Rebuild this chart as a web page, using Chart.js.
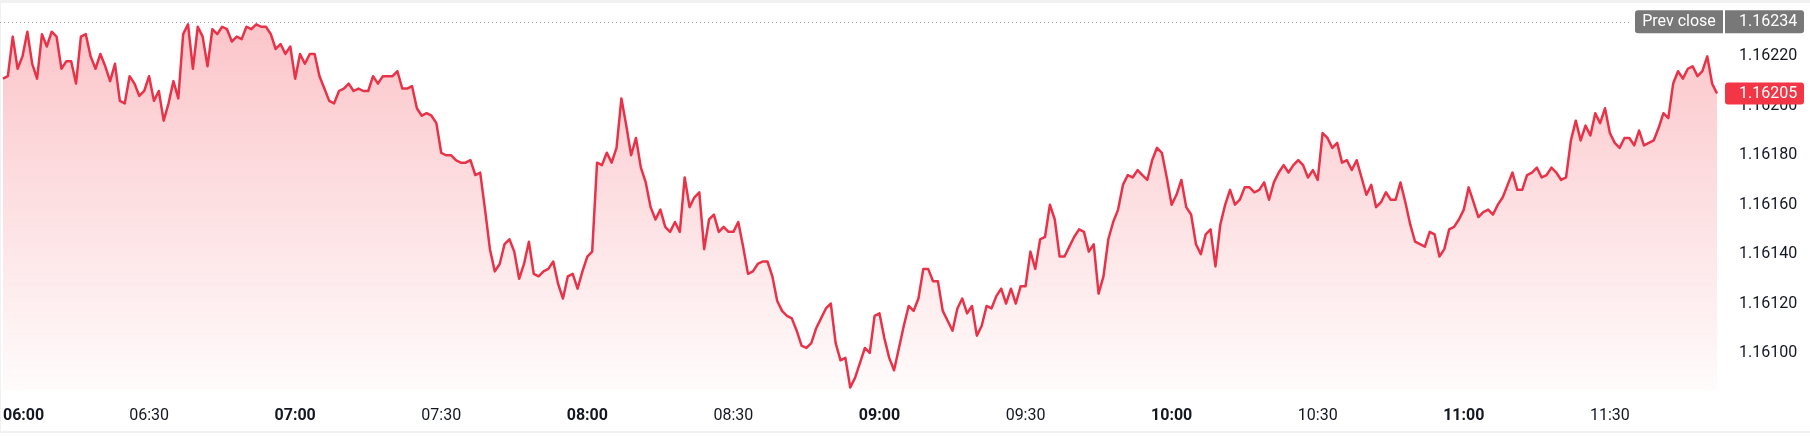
<!DOCTYPE html>
<html>
<head>
<meta charset="utf-8">
<script src="https://cdn.jsdelivr.net/npm/chart.js@4.4.1/dist/chart.umd.min.js"></script>
<style>
  html, body { margin: 0; padding: 0; background: #fff; }
  #wrap { width: 1810px; height: 437px; }
</style>
</head>
<body>
<div id="wrap"><canvas id="priceChart" width="1810" height="437"></canvas></div>
<script>
// one close per minute, starting 06:00
const startTime = '06:00';
const prices = [
  1.16211, 1.16212, 1.16228, 1.16215, 1.16220, 1.16230, 1.16217, 1.16211, 1.16229, 1.16224,
  1.16230, 1.16228, 1.16215, 1.16218, 1.16218, 1.16209, 1.16228, 1.16229, 1.16220, 1.16215,
  1.16221, 1.16216, 1.16210, 1.16217, 1.16202, 1.16201, 1.16212, 1.16209, 1.16204, 1.16206,
  1.16212, 1.16202, 1.16206, 1.16194, 1.16201, 1.16210, 1.16203, 1.16229, 1.16233, 1.16215,
  1.16232, 1.16228, 1.16216, 1.16231, 1.16229, 1.16232, 1.16231, 1.16226, 1.16228, 1.16227,
  1.16232, 1.16231, 1.16233, 1.16232, 1.16232, 1.16229, 1.16223, 1.16225, 1.16221, 1.16224,
  1.16211, 1.16221, 1.16217, 1.16221, 1.16221, 1.16212, 1.16207, 1.16202, 1.16201, 1.16206,
  1.16207, 1.16209, 1.16206, 1.16207, 1.16206, 1.16206, 1.16212, 1.16209, 1.16212, 1.16212,
  1.16212, 1.16214, 1.16207, 1.16207, 1.16208, 1.16199, 1.16196, 1.16197, 1.16196, 1.16193,
  1.16181, 1.16180, 1.16180, 1.16178, 1.16177, 1.16177, 1.16178, 1.16172, 1.16173, 1.16158,
  1.16142, 1.16133, 1.16136, 1.16144, 1.16146, 1.16141, 1.16130, 1.16136, 1.16145, 1.16132,
  1.16131, 1.16133, 1.16134, 1.16137, 1.16128, 1.16122, 1.16131, 1.16132, 1.16126, 1.16133,
  1.16139, 1.16141, 1.16177, 1.16176, 1.16181, 1.16177, 1.16183, 1.16203, 1.16192, 1.16180,
  1.16187, 1.16175, 1.16169, 1.16159, 1.16154, 1.16158, 1.16151, 1.16149, 1.16153, 1.16149,
  1.16171, 1.16159, 1.16163, 1.16165, 1.16142, 1.16154, 1.16156, 1.16149, 1.16151, 1.16149,
  1.16149, 1.16153, 1.16143, 1.16132, 1.16133, 1.16136, 1.16137, 1.16137, 1.16131, 1.16121,
  1.16117, 1.16115, 1.16114, 1.16109, 1.16103, 1.16102, 1.16104, 1.16110, 1.16114, 1.16118,
  1.16120, 1.16104, 1.16097, 1.16098, 1.16086, 1.16090, 1.16096, 1.16102, 1.16100, 1.16115,
  1.16116, 1.16106, 1.16098, 1.16093, 1.16102, 1.16111, 1.16119, 1.16117, 1.16122, 1.16134,
  1.16134, 1.16129, 1.16129, 1.16117, 1.16113, 1.16109, 1.16118, 1.16122, 1.16116, 1.16119,
  1.16107, 1.16111, 1.16119, 1.16118, 1.16123, 1.16126, 1.16120, 1.16126, 1.16120, 1.16127,
  1.16127, 1.16141, 1.16134, 1.16146, 1.16147, 1.16160, 1.16154, 1.16139, 1.16139, 1.16143,
  1.16147, 1.16150, 1.16149, 1.16141, 1.16144, 1.16124, 1.16131, 1.16146, 1.16153, 1.16158,
  1.16168, 1.16172, 1.16171, 1.16174, 1.16172, 1.16170, 1.16178, 1.16183, 1.16181, 1.16171,
  1.16160, 1.16164, 1.16170, 1.16159, 1.16156, 1.16144, 1.16140, 1.16148, 1.16150, 1.16135,
  1.16152, 1.16160, 1.16166, 1.16160, 1.16162, 1.16167, 1.16167, 1.16165, 1.16166, 1.16169,
  1.16162, 1.16169, 1.16173, 1.16176, 1.16173, 1.16176, 1.16178, 1.16176, 1.16171, 1.16174,
  1.16170, 1.16189, 1.16187, 1.16183, 1.16185, 1.16177, 1.16178, 1.16174, 1.16178, 1.16171,
  1.16164, 1.16168, 1.16159, 1.16161, 1.16165, 1.16162, 1.16162, 1.16169, 1.16161, 1.16152,
  1.16145, 1.16144, 1.16143, 1.16149, 1.16148, 1.16139, 1.16142, 1.16150, 1.16151, 1.16154,
  1.16158, 1.16167, 1.16161, 1.16155, 1.16157, 1.16158, 1.16156, 1.16160, 1.16163, 1.16168,
  1.16173, 1.16166, 1.16166, 1.16172, 1.16173, 1.16175, 1.16171, 1.16172, 1.16175, 1.16173,
  1.16170, 1.16171, 1.16186, 1.16194, 1.16186, 1.16192, 1.16188, 1.16197, 1.16193, 1.16199,
  1.16189, 1.16185, 1.16183, 1.16187, 1.16187, 1.16184, 1.16190, 1.16184, 1.16185, 1.16186,
  1.16191, 1.16197, 1.16195, 1.16209, 1.16214, 1.16211, 1.16215, 1.16216, 1.16212, 1.16214,
  1.16220, 1.16209, 1.16205
];
const yTicks = [1.16100, 1.16120, 1.16140, 1.16160, 1.16180, 1.16200, 1.16220];
const yMin = 1.16085;
const yMax = 1.162408;
const prevClose = 1.16234;
const labelEvery = 30; // minutes between time labels

const fontFamily = 'Roboto, "Noto Sans", sans-serif';
const red = '#f23645';

const startMin = parseInt(startTime.slice(0, 2)) * 60 + parseInt(startTime.slice(3));
const times = prices.map(function(p, i) {
    const m = startMin + i;
    return String(Math.floor(m / 60)).padStart(2, '0') + ':' + String(m % 60).padStart(2, '0');
});

function badge(ctx, x, y, w, h, radii, color) {
    ctx.fillStyle = color;
    ctx.beginPath();
    ctx.roundRect(x, y, w, h, radii);
    ctx.fill();
}

const overlay = {
    id: 'overlay',
    beforeDraw(chart) {
        const ctx = chart.ctx;
        ctx.save();
        ctx.fillStyle = '#f1f1f1';
        ctx.fillRect(0, 0, chart.width, 3);
        ctx.fillRect(0, 0, 1, 433);
        ctx.fillRect(0, 431, chart.width, 2);
        ctx.restore();
    },
    beforeDatasetsDraw(chart) {
        const ctx = chart.ctx;
        const y = Math.round(chart.scales.y.getPixelForValue(prevClose)) + 0.5;
        ctx.save();
        ctx.strokeStyle = '#9a9ca3';
        ctx.lineWidth = 1;
        ctx.setLineDash([1, 3]);
        ctx.beginPath();
        ctx.moveTo(0, y);
        ctx.lineTo(1632, y);
        ctx.stroke();
        ctx.restore();
    },
    afterDraw(chart) {
        const ctx = chart.ctx;
        const ys = chart.scales.y;
        const textX = chart.chartArea.right + 22;
        ctx.save();
        ctx.font = '16px ' + fontFamily;
        ctx.textBaseline = 'middle';

        // previous close tag
        const py = ys.getPixelForValue(prevClose);
        badge(ctx, 1635, py - 11.5, 88, 23, [3, 0, 0, 3], '#787878');
        badge(ctx, 1725, py - 11.5, 79, 23, [0, 3, 3, 0], '#787878');
        ctx.fillStyle = '#ffffff';
        ctx.textAlign = 'center';
        ctx.fillText('Prev close', 1679, py + 0.5);
        ctx.textAlign = 'left';
        ctx.fillText(prevClose.toFixed(5), textX, py + 0.5);

        // last price tag
        const last = prices[prices.length - 1];
        const ly = ys.getPixelForValue(last);
        badge(ctx, 1725, ly - 11, 79, 22, 3, red);
        ctx.fillStyle = '#ffffff';
        ctx.fillText(last.toFixed(5), textX, ly + 0.5);
        ctx.restore();
    }
};

const ctxPrice = document.getElementById('priceChart').getContext('2d');
new Chart(ctxPrice, {
    type: 'line',
    data: {
        labels: times,
        datasets: [{
            data: prices,
            borderColor: '#e93248',
            borderWidth: 2.5,
            borderJoinStyle: 'round',
            pointRadius: 0,
            tension: 0,
            fill: 'start',
            backgroundColor: function(context) {
                const area = context.chart.chartArea;
                if (!area) return 'rgba(242,54,69,0.2)';
                const g = context.chart.ctx.createLinearGradient(0, area.top, 0, area.bottom);
                g.addColorStop(0, 'rgba(242,54,69,0.30)');
                g.addColorStop(1, 'rgba(242,54,69,0.02)');
                return g;
            }
        }]
    },
    options: {
        responsive: false,
        animation: false,
        devicePixelRatio: 1,
        layout: { padding: { left: 3, top: 5, right: 0, bottom: 0 } },
        plugins: {
            legend: { display: false },
            tooltip: { enabled: false }
        },
        scales: {
            x: {
                type: 'category',
                grid: { display: false, drawTicks: false },
                border: { display: false },
                ticks: {
                    autoSkip: false,
                    maxRotation: 0,
                    align: 'inner',
                    padding: 16,
                    color: '#131722',
                    font: function(c) {
                        return { family: fontFamily, size: 16, weight: c.index % 60 === 0 ? 'bold' : 'normal' };
                    },
                    callback: function(value, index) {
                        return index % labelEvery === 0 ? times[index] : '';
                    }
                },
                afterFit: function(s) {
                    s.paddingLeft = 0;
                    s.paddingRight = 0;
                    s.height = 47;
                }
            },
            y: {
                position: 'right',
                min: yMin,
                max: yMax,
                grid: { display: false, drawTicks: false },
                border: { display: false },
                ticks: {
                    padding: 22,
                    color: '#131722',
                    font: { family: fontFamily, size: 16 },
                    callback: function(value) { return value.toFixed(5); }
                },
                afterBuildTicks: function(s) {
                    s.ticks = yTicks.map(function(v) { return { value: v }; });
                },
                afterFit: function(s) {
                    s.paddingTop = 0;
                    s.paddingBottom = 0;
                    s.width = 93;
                }
            }
        }
    },
    plugins: [overlay]
});
</script>
</body>
</html>
